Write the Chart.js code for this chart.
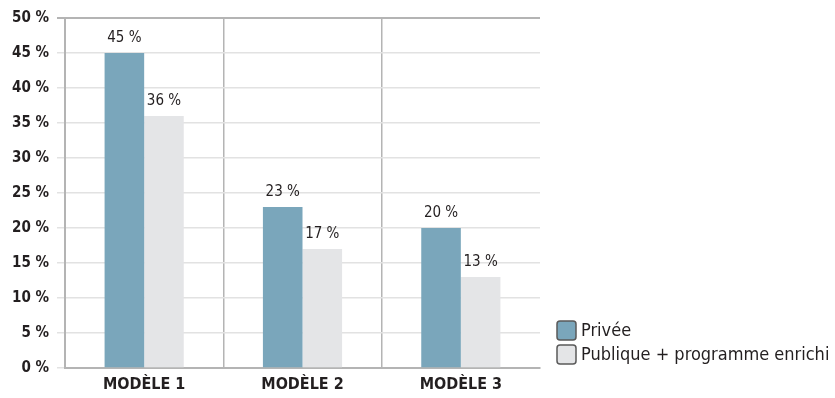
<!DOCTYPE html>
<html>
<head>
<meta charset="utf-8">
<script src="https://cdn.jsdelivr.net/npm/chart.js@4"></script>
<style>
  html, body { margin: 0; padding: 0; background: #fff; }
  #wrap { width: 835px; height: 398px; position: relative; }
</style>
</head>
<body>
<div id="wrap"><canvas id="chart"></canvas></div>
<script>
// DATA
var categories = ['MODÈLE 1', 'MODÈLE 2', 'MODÈLE 3']
var seriesNames = ['Privée', 'Publique + programme enrichi']
var privee = [45, 23, 20]
var publique = [36, 17, 13]
var yTicks = [0, 5, 10, 15, 20, 25, 30, 35, 40, 45, 50]

// COLORS
var blue = '#7aa6bb'
var lightGrey = '#e4e5e7'
var gridGrey = '#e2e2e2'
var axisGrey = '#b4b4b4'
var ink = '#231f20'

var FONT = "'Liberation Sans Narrow', 'DejaVu Sans Condensed', sans-serif"

// value labels over the bars
var valueLabels = {
  id: 'valueLabels',
  afterDatasetsDraw: function (chart) {
    var ctx = chart.ctx
    ctx.save()
    ctx.fillStyle = ink
    ctx.font = '15px ' + FONT
    ctx.textAlign = 'center'
    ctx.textBaseline = 'bottom'
    chart.data.datasets.forEach(function (ds, i) {
      chart.getDatasetMeta(i).data.forEach(function (bar, j) {
        ctx.fillText(ds.data[j] + ' %', bar.x, bar.y - 7)
      })
    })
    ctx.restore()
  }
}

// legend in the lower right corner
var sideLegend = {
  id: 'sideLegend',
  afterDraw: function (chart) {
    var ctx = chart.ctx
    var x = 556, y = 320
    ctx.save()
    ctx.font = '18px ' + FONT
    ctx.textBaseline = 'middle'
    chart.data.datasets.forEach(function (ds, i) {
      var top = y + i * 24
      ctx.beginPath()
      ctx.roundRect(x + 1, top + 1, 19, 19, 3)
      ctx.fillStyle = ds.backgroundColor
      ctx.fill()
      ctx.lineWidth = 1.5
      ctx.strokeStyle = '#5a5a5a'
      ctx.stroke()
      ctx.fillStyle = ink
      ctx.fillText(ds.label, x + 25, top + 11)
    })
    ctx.restore()
  }
}

new Chart(document.getElementById('chart'), {
  type: 'bar',
  data: {
    labels: categories,
    datasets: [
      { label: seriesNames[0], data: privee, backgroundColor: blue },
      { label: seriesNames[1], data: publique, backgroundColor: lightGrey }
    ]
  },
  options: {
    responsive: true,
    maintainAspectRatio: false,
    animation: false,
    layout: { padding: { top: 18, right: 295, left: 0, bottom: 0 } },
    datasets: { bar: { categoryPercentage: 0.5, barPercentage: 1 } },
    plugins: {
      legend: { display: false },
      tooltip: { enabled: false }
    },
    scales: {
      x: {
        grid: {
          offset: true,
          drawTicks: false,
          // no divider after the last group
          color: function (c) { return c.type === 'tick' ? axisGrey : 'rgba(0,0,0,0)' },
          lineWidth: 1.5
        },
        border: { color: axisGrey, width: 2 },
        ticks: {
          color: ink,
          padding: 7,
          font: { family: FONT, size: 16, weight: 'bold' }
        },
        afterFit: function (scale) { scale.height = 30 }
      },
      y: {
        min: 0,
        max: 50,
        afterBuildTicks: function (scale) {
          scale.ticks = yTicks.map(function (v) { return { value: v } })
        },
        grid: {
          tickLength: 8,
          color: function (c) {
            return c.tick && (c.tick.value === 50) ? axisGrey : gridGrey
          },
          lineWidth: function (c) {
            return c.tick && (c.tick.value === 50) ? 2 : 1.5
          }
        },
        border: { color: axisGrey, width: 2 },
        ticks: {
          color: ink,
          padding: 8,
          font: { family: FONT, size: 15, weight: 'bold' },
          callback: function (v) { return v + ' %' }
        },
        afterFit: function (scale) { scale.width = 65 }
      }
    }
  },
  plugins: [valueLabels, sideLegend]
})
</script>
</body>
</html>
